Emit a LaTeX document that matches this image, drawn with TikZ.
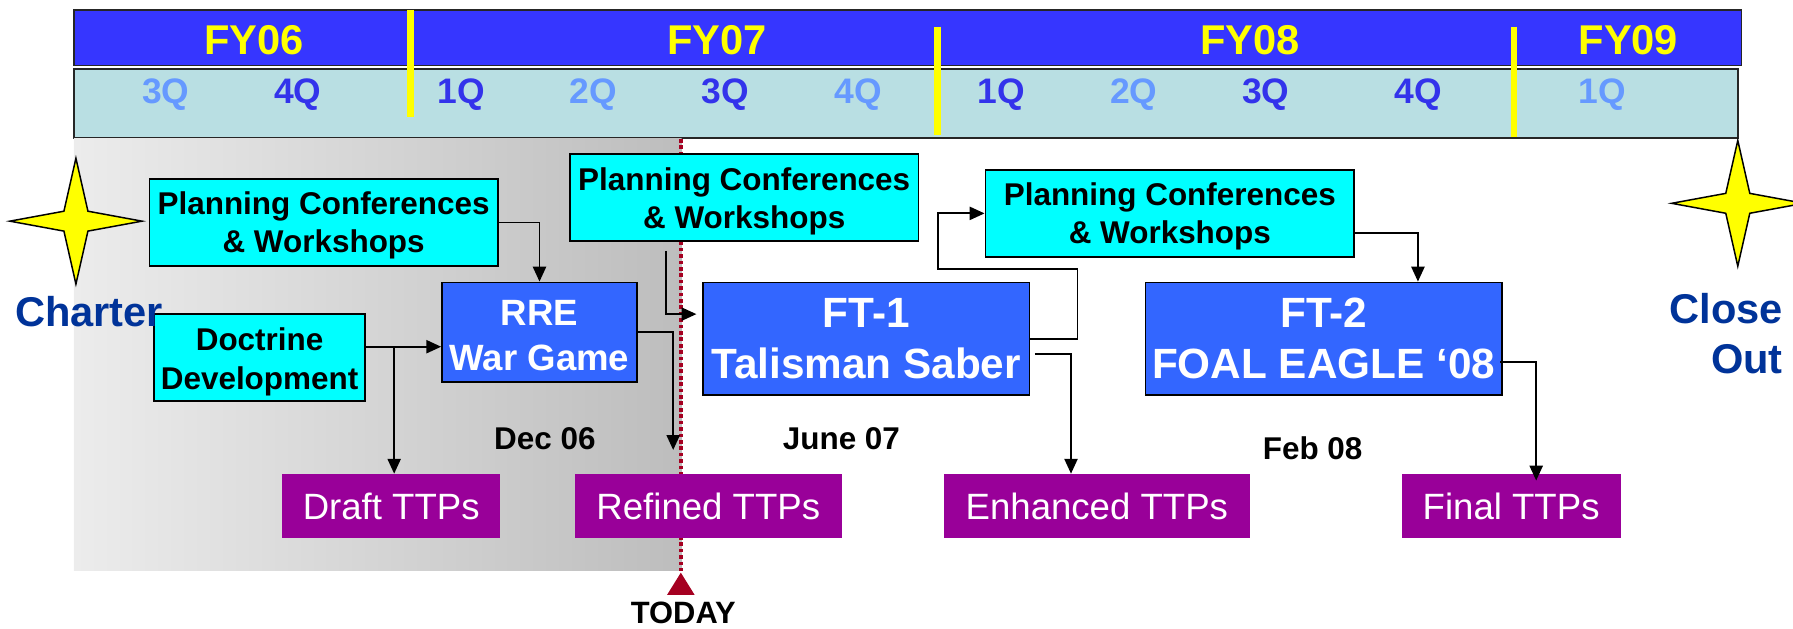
\documentclass[tikz,border=0pt]{standalone}
\usepackage{fontspec}
\setmainfont{Liberation Sans}
\usetikzlibrary{arrows.meta}
\definecolor{fyblue}{RGB}{54,54,255}
\definecolor{qbg}{RGB}{185,223,227}
\definecolor{qdark}{RGB}{51,51,235}
\definecolor{qlight}{RGB}{102,153,255}
\definecolor{boxblue}{RGB}{51,102,255}
\definecolor{boxcyan}{RGB}{0,255,255}
\definecolor{ttppurple}{RGB}{153,0,153}
\definecolor{chartblue}{RGB}{0,51,153}
\definecolor{todayred}{RGB}{165,0,33}
\definecolor{grayA}{RGB}{236,236,236}
\definecolor{grayB}{RGB}{189,189,189}
\definecolor{staryellow}{RGB}{255,255,0}
\begin{document}
\begin{tikzpicture}[x=1pt,y=-1pt,
  bar/.style={draw=black!85, line width=1.5pt},
  fylab/.style={text=staryellow, font=\bfseries\fontsize{36.4}{40}\selectfont, anchor=base, inner sep=0},
  qd/.style={text=qdark, font=\bfseries\fontsize{31}{34}\selectfont, anchor=base, inner sep=0},
  ql/.style={qd, text=qlight},
  divider/.style={draw=staryellow, line width=6pt},
  cbox/.style={draw=black, line width=1.5pt, fill=boxcyan, inner sep=0},
  bbox/.style={draw=black, line width=1.5pt, fill=boxblue, inner sep=0},
  tbox/.style={fill=ttppurple, inner sep=0, text=white, font=\fontsize{32}{36}\selectfont, minimum height=56.3pt},
  ctext/.style={font=\bfseries\fontsize{27.5}{33.8}\selectfont, align=center, inner sep=0},
  rtext/.style={text=white, font=\bfseries\fontsize{32}{39.5}\selectfont, align=center, inner sep=0},
  ftext/.style={text=white, font=\bfseries\fontsize{37}{44.6}\selectfont, align=center, inner sep=0},
  datelab/.style={font=\bfseries\fontsize{27.5}{30}\selectfont, anchor=base, inner sep=0},
  milestone/.style={text=chartblue, font=\bfseries\fontsize{36.4}{40}\selectfont, inner sep=0},
  starshape/.style={draw=black, line width=1.3pt, fill=staryellow},
  conn/.style={line width=1.6pt, -{Triangle[length=13pt,width=11.5pt]}},
  fourstar/.pic={\draw[starshape] (0,-55) -- (10.5,-8.7) -- (57.8,0) -- (10.5,8.7) -- (0,55) -- (-10.5,8.7) -- (-57.8,0) -- (-10.5,-8.7) -- cycle;}
]
\useasboundingbox (0,0) rectangle (1568,549.2);

% timeline bars
\path[bar, fill=fyblue] (64.6,8.7) rectangle (1523,57.4);
\path[bar, fill=qbg] (64.6,60.3) rectangle (1519.7,120.4);

% shaded past region
\shade[left color=grayA, right color=grayB] (64.6,121.2) rectangle (596,498.8);

% dividers
\draw[divider] (358.8,8.7) -- (358.8,102);
\draw[divider] (820,23.3) -- (820,118);
\draw[divider] (1324,23.3) -- (1324,120);

% year labels
\node[fylab] (fy06) at (222,47.5) {FY06};
\node[fylab] (fy07) at (627,47.5) {FY07};
\node[fylab] (fy08) at (1093,47.5) {FY08};
\node[fylab] (fy09) at (1424,47.5) {FY09};

% quarter labels
\node[ql] (q1) at (145,90.4) {3Q};
\node[qd] (q2) at (260.5,90.4) {4Q};
\node[qd] (q3) at (403.5,90.4) {1Q};
\node[ql] (q4) at (519,90.4) {2Q};
\node[qd] (q5) at (634.5,90.4) {3Q};
\node[ql] (q6) at (750.5,90.4) {4Q};
\node[qd] (q7) at (875.5,90.4) {1Q};
\node[ql] (q8) at (991.5,90.4) {2Q};
\node[qd] (q9) at (1107,90.4) {3Q};
\node[qd] (q10) at (1240.5,90.4) {4Q};
\node[ql] (q11) at (1401.5,90.4) {1Q};

% today line
\draw[todayred, line width=3pt, dash pattern=on 3.2pt off 2.4pt] (595.4,121.5) -- (595.4,499);
\fill[todayred] (595.4,500.8) -- (607.5,520.3) -- (583.3,520.3) -- cycle;
\node[datelab, font=\bfseries\fontsize{27}{30}\selectfont] (today) at (597.5,545.5) {TODAY};

% stars
\pic at (66.4,193.4) {fourstar};
\pic at (1519.7,177.8) {fourstar};

% boxes
\node[cbox, minimum width=304.5pt, minimum height=76pt] (pc1) at (283,194.5) {};
\node[ctext, yshift=-2.5pt] (pc1t) at (pc1.center) {Planning Conferences\\\& Workshops};
\node[cbox, minimum width=304.8pt, minimum height=76pt] (pc2) at (650.8,172.6) {};
\node[ctext, yshift=-3.4pt] (pc2t) at (pc2.center) {Planning Conferences\\\& Workshops};
\node[cbox, minimum width=322.5pt, minimum height=75.8pt] (pc3) at (1023,186.6) {};
\node[ctext, yshift=-2.5pt] (pc3t) at (pc3.center) {Planning Conferences\\\& Workshops};
\node[cbox, minimum width=184.6pt, minimum height=76.1pt] (doc) at (227,312.6) {};
\node[ctext, yshift=-4pt] (doct) at (doc.center) {Doctrine\\Development};

\node[bbox, minimum width=170.5pt, minimum height=86.8pt] (rre) at (471.8,290.4) {};
\node[rtext, yshift=-3.2pt] (rret) at (rre.center) {RRE\\War Game};
\node[bbox, minimum width=285.5pt, minimum height=98.4pt] (ft1) at (757.5,296.2) {};
\node[ftext] (ft1t) at (ft1.center) {FT-1\\Talisman Saber};
\node[bbox, minimum width=311.8pt, minimum height=98.4pt] (ft2) at (1157.6,296.2) {};
\node[ftext] (ft2t) at (ft2.center) {FT-2\\FOAL EAGLE ‘08};

\node[tbox, minimum width=191pt] (draft) at (342.1,442.6) {Draft TTPs};
\node[tbox, minimum width=233.1pt] (refined) at (619.4,442.6) {Refined TTPs};
\node[tbox, minimum width=267.5pt] (enh) at (959.2,442.6) {Enhanced TTPs};
\node[tbox, minimum width=191.3pt] (final) at (1321.5,442.6) {Final TTPs};

% dates
\node[datelab] (dec) at (476.5,393.5) {Dec 06};
\node[datelab] (june) at (735.8,393.5) {June 07};
\node[datelab] (feb) at (1147.9,401.7) {Feb 08};

% milestones
\node[milestone, anchor=base] (charter) at (78,285.7) {Charter};
\node[milestone, anchor=base east] (closet) at (1559.2,282.8) {Close};
\node[milestone, anchor=base east] (outt) at (1559.2,326.5) {Out};

% connectors
\draw[conn] (pc1.east) -| (rre.north);

\coordinate (docout) at ([yshift=9.4pt]doc.east);
\draw[conn] (docout) -- (docout -| rre.west);
\coordinate (draftin) at ([xshift=2.6pt]draft.north);
\draw[conn] (docout -| draftin) -- (draftin);

\coordinate (rrestop) at (588.7,393.5);
\draw[conn] (rre.east) -| (rrestop);

\coordinate (pc2out) at ([xshift=-68.4pt,yshift=-8pt]pc2.south);
\coordinate (ft1in) at ([yshift=21.5pt,xshift=-5pt]ft1.west);
\draw[conn] (pc2out) |- (ft1in);

\draw[conn] (ft1.east) -- (942.2,296.2) |- (820.6,235.5) |- (pc3.west);

\coordinate (ft1outb) at ([xshift=4pt,yshift=-13.7pt]ft1.east);
\coordinate (enhin) at ([xshift=-22.6pt]enh.north);
\draw[conn] (ft1outb) -| (enhin);

\coordinate (pc3out) at ([yshift=-16.9pt]pc3.east);
\coordinate (ft2in) at ([xshift=82.4pt]ft2.north);
\draw[conn] (pc3out) -| (ft2in);

\coordinate (ft2out) at ([xshift=-2.5pt,yshift=-20.1pt]ft2.east);
\coordinate (finin) at ([xshift=21.9pt,yshift=-6pt]final.north);
\draw[conn] (ft2out) -| (finin);
\end{tikzpicture}
\end{document}
